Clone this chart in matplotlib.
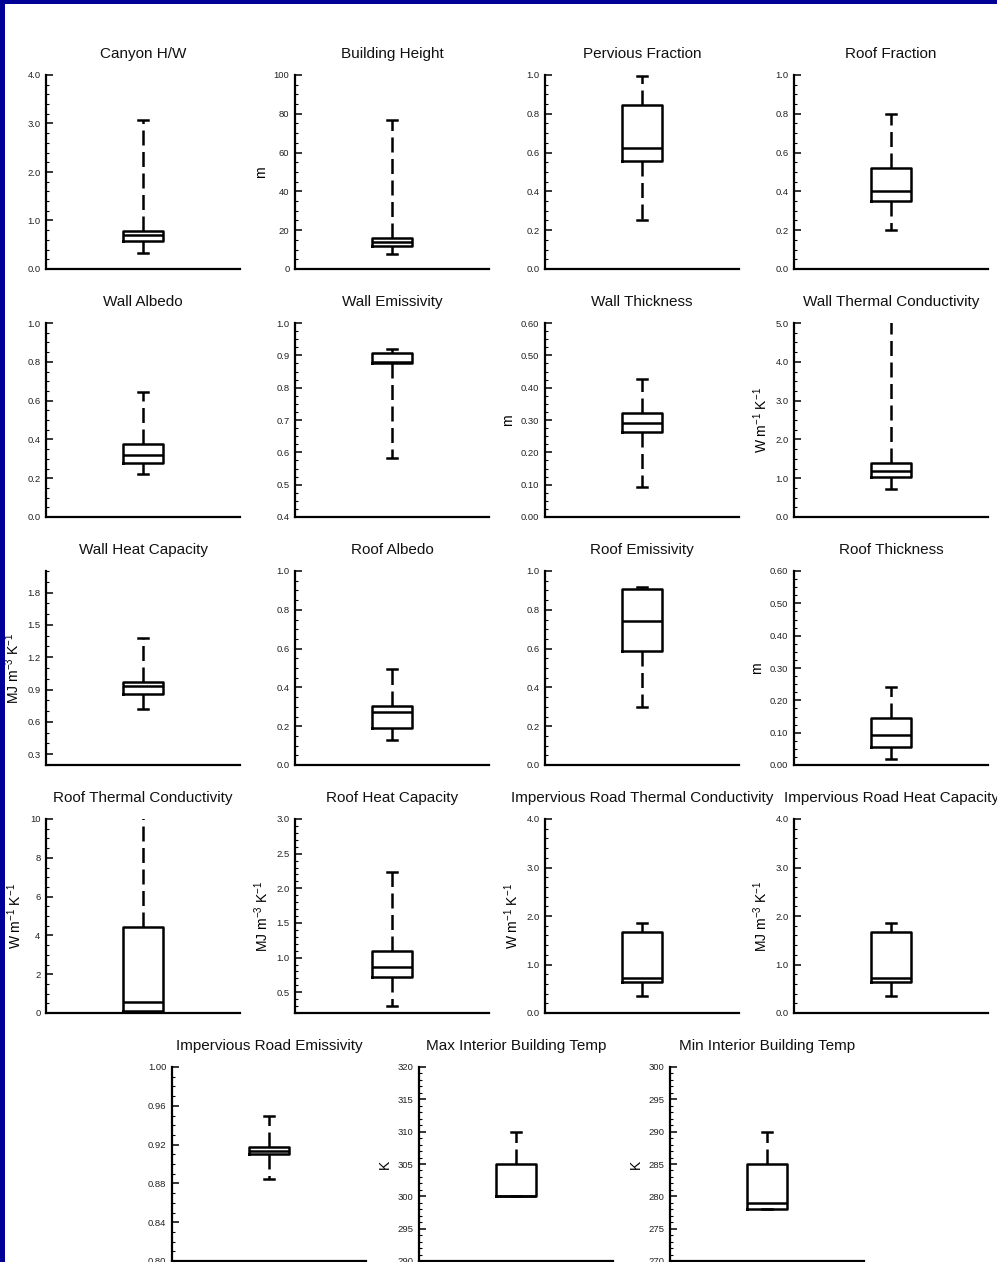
import matplotlib
matplotlib.use("Agg")
import matplotlib.pyplot as plt
from matplotlib.ticker import FixedLocator, AutoMinorLocator, FormatStrFormatter
from matplotlib.patches import Rectangle

plt.rcParams['font.family'] = ['Liberation Sans', 'DejaVu Sans']

# ---------------- data ----------------
titles = ["Canyon H/W", "Building Height", "Pervious Fraction", "Roof Fraction",
          "Wall Albedo", "Wall Emissivity", "Wall Thickness", "Wall Thermal Conductivity",
          "Wall Heat Capacity", "Roof Albedo", "Roof Emissivity", "Roof Thickness",
          "Roof Thermal Conductivity", "Roof Heat Capacity",
          "Impervious Road Thermal Conductivity", "Impervious Road Heat Capacity",
          "Impervious Road Emissivity", "Max Interior Building Temp", "Min Interior Building Temp"]

WK = r"W m$^{\mathregular{-1}}$ K$^{\mathregular{-1}}$"
MJ = r"MJ m$^{\mathregular{-3}}$ K$^{\mathregular{-1}}$"
ylabels = ["", "m", "", "",
           "", "", "m", WK,
           MJ, "", "", "m",
           WK, MJ, WK, MJ,
           "", "K", "K"]

whis_lo = [0.32, 7.9, 0.25, 0.20, 0.222, 0.583, 0.092, 0.71, 0.723, 0.130, 0.297, 0.020,
           0.05, 0.30, 0.36, 0.36, 0.8845, 300.0, 278.0]
q1      = [0.58, 11.7, 0.557, 0.35, 0.278, 0.875, 0.264, 1.02, 0.862, 0.192, 0.59, 0.057,
           0.12, 0.72, 0.63, 0.63, 0.910, 300.0, 278.0]
median  = [0.70, 13.7, 0.624, 0.40, 0.318, 0.879, 0.291, 1.19, 0.936, 0.273, 0.743, 0.092,
           0.55, 0.87, 0.73, 0.73, 0.9135, 300.0, 279.0]
q3      = [0.79, 15.8, 0.847, 0.52, 0.376, 0.908, 0.322, 1.39, 0.973, 0.305, 0.906, 0.145,
           4.42, 1.10, 1.67, 1.67, 0.9176, 305.0, 285.0]
whis_hi = [3.07, 76.8, 0.997, 0.80, 0.646, 0.919, 0.427, 5.3, 1.374, 0.494, 0.918, 0.242,
           10.6, 2.23, 1.86, 1.86, 0.950, 309.9, 290.0]

ylims = [(0, 4), (0, 100), (0, 1), (0, 1), (0, 1), (0.4, 1.0), (0, 0.6), (0, 5),
         (0.2, 2.0), (0, 1), (0, 1), (0, 0.6), (0, 10), (0.2, 3.0), (0, 4), (0, 4),
         (0.80, 1.00), (290, 320), (270, 300)]

yticks = [[0, 1, 2, 3, 4], [0, 20, 40, 60, 80, 100], [0, .2, .4, .6, .8, 1], [0, .2, .4, .6, .8, 1],
          [0, .2, .4, .6, .8, 1], [.4, .5, .6, .7, .8, .9, 1], [0, .1, .2, .3, .4, .5, .6], [0, 1, 2, 3, 4, 5],
          [.3, .6, .9, 1.2, 1.5, 1.8], [0, .2, .4, .6, .8, 1], [0, .2, .4, .6, .8, 1], [0, .1, .2, .3, .4, .5, .6],
          [0, 2, 4, 6, 8, 10], [.5, 1, 1.5, 2, 2.5, 3], [0, 1, 2, 3, 4], [0, 1, 2, 3, 4],
          [.80, .84, .88, .92, .96, 1.00], [290, 295, 300, 305, 310, 315, 320], [270, 275, 280, 285, 290, 295, 300]]

tick_fmt = ["%.1f", "%d", "%.1f", "%.1f", "%.1f", "%.1f", "%.2f", "%.1f",
            "%.1f", "%.1f", "%.1f", "%.2f", "%d", "%.1f", "%.1f", "%.1f",
            "%.2f", "%d", "%d"]

minor_n = [5, 4, 4, 4, 4, 4, 4, 4, 3, 4, 4, 4, 4, 5, 5, 5, 4, 5, 5]

# ---------------- layout (pixels) ----------------
W, H = 997, 1262
fig = plt.figure(figsize=(W / 100, H / 100), dpi=100)
fig.patch.set_facecolor('white')

navy = '#000096'
fig.patches.append(Rectangle((0, 1 - 4 / H), 1, 4 / H, transform=fig.transFigure,
                             facecolor=navy, edgecolor='none', zorder=10))
fig.patches.append(Rectangle((0, 0), 5 / W, 1, transform=fig.transFigure,
                             facecolor=navy, edgecolor='none', zorder=10))

col_left = [46, 295, 545, 794]
row_top = [75, 323, 571, 819]
row5_left = [172, 419, 670]
aw, ah = 194, 194

positions = []
for r in range(4):
    for c in range(4):
        positions.append((col_left[c], row_top[r]))
for c in range(3):
    positions.append((row5_left[c], 1067))

LW = 1.8
for i, (px, py) in enumerate(positions):
    ax = fig.add_axes([px / W, 1 - (py + ah) / H, aw / W, ah / H])
    st = dict(med=median[i], q1=q1[i], q3=q3[i], whislo=whis_lo[i], whishi=whis_hi[i], fliers=[])
    ax.bxp([st], positions=[0.5], widths=0.21, capwidths=0.055, showfliers=False,
           boxprops=dict(color='black', lw=LW),
           medianprops=dict(color='black', lw=LW),
           whiskerprops=dict(color='black', lw=LW, linestyle=(0, (6.0, 2.6))),
           capprops=dict(color='black', lw=LW),
           manage_ticks=False)
    ax.set_xlim(0, 1)
    ax.set_ylim(*ylims[i])
    ax.yaxis.set_major_locator(FixedLocator(yticks[i]))
    ax.yaxis.set_major_formatter(FormatStrFormatter(tick_fmt[i]))
    ax.yaxis.set_minor_locator(AutoMinorLocator(minor_n[i]))
    ax.set_xticks([])
    for s in ['top', 'right']:
        ax.spines[s].set_visible(False)
    for s in ['left', 'bottom']:
        ax.spines[s].set_linewidth(1.6)
    ax.tick_params(axis='y', which='major', direction='in', length=5, width=1.1,
                   labelsize=6.8, pad=4, labelcolor='#222222')
    ax.tick_params(axis='y', which='minor', direction='in', length=2.2, width=0.8)
    ax.text(0.5, 1 + 21 / ah, titles[i], transform=ax.transAxes, ha='center', va='center',
            fontsize=11, color='#111111', clip_on=False)
    if ylabels[i]:
        ax.set_ylabel(ylabels[i], fontsize=10, labelpad=4)

fig.savefig("out.png", dpi=100, facecolor='white')
